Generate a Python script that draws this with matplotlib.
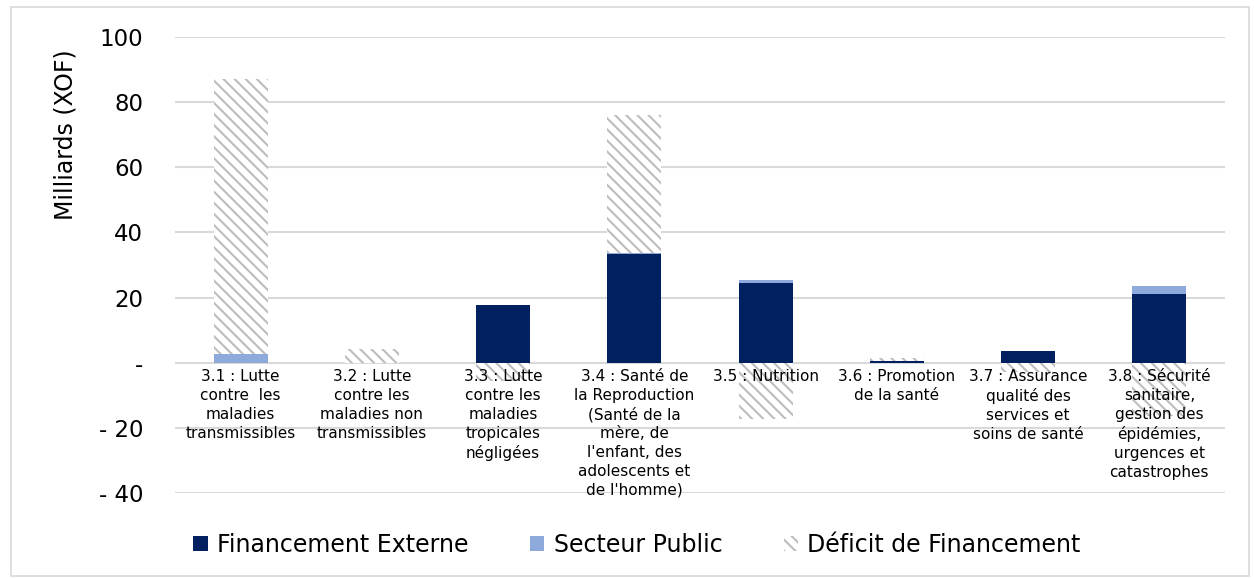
import numpy as np
import matplotlib
matplotlib.use("Agg")
import matplotlib.pyplot as plt
from matplotlib.patches import Rectangle, Patch

categories = [
    "3.1 : Lutte\ncontre  les\nmaladies\ntransmissibles",
    "3.2 : Lutte\ncontre les\nmaladies non\ntransmissibles",
    "3.3 : Lutte\ncontre les\nmaladies\ntropicales\nnégligées",
    "3.4 : Santé de\nla Reproduction\n(Santé de la\nmère, de\nl'enfant, des\nadolescents et\nde l'homme)",
    "3.5 : Nutrition",
    "3.6 : Promotion\nde la santé",
    "3.7 : Assurance\nqualité des\nservices et\nsoins de santé",
    "3.8 : Sécurité\nsanitaire,\ngestion des\népidémies,\nurgences et\ncatastrophes",
]
financement_externe = [0.0, 0.0, 17.8, 33.4, 24.6, 0.5, 3.6, 21.2]
secteur_public = [2.8, 0.0, 0.0, 0.4, 0.9, 0.1, 0.0, 2.4]
deficit = [84.3, 4.3, -5.5, 42.3, -17.2, 0.9, -3.0, -16.5]

yticks = [100, 80, 60, 40, 20, 0, -20, -40]
yticklabels = ["100", "80", "60", "40", "20", "-", "- 20", "- 40"]

navy = "#002060"
light_blue = "#8EA9DB"
hatch_col = "#bdbdbd"
plt.rcParams["hatch.linewidth"] = 1.5

fig = plt.figure(figsize=(12.54, 5.78), dpi=100)
ax = fig.add_axes([175 / 1254, 1 - 493 / 578, 1050 / 1254, 456 / 578])

x = np.arange(len(categories))
fe = np.array(financement_externe)
sp = np.array(secteur_public)
df = np.array(deficit)
w = 0.41

ax.bar(x, fe, w, color=navy, linewidth=0)
ax.bar(x, sp, w, bottom=fe, color=light_blue, linewidth=0)
# les déficits négatifs partent de zéro (empilement Excel)
df_bottom = np.where(df >= 0, fe + sp, 0)
ax.bar(x, df, w, bottom=df_bottom, facecolor="white", edgecolor=hatch_col,
       hatch="\\\\\\", linewidth=0)

for i, lab in enumerate(categories):
    ax.text(i, -2.0, lab, ha="center", va="top", fontsize=11,
            linespacing=1.32, zorder=5, color="#000000")

ax.set_xlim(-0.5, len(categories) - 0.5)
ax.set_ylim(-40, 100)
ax.set_yticks(yticks)
ax.set_yticklabels(yticklabels, fontsize=16.5)
ax.set_xticks([])
ax.tick_params(axis="y", length=0, pad=23)
ax.grid(axis="y", color="#d9d9d9", linewidth=1.5)
ax.set_axisbelow(True)
for s in ax.spines.values():
    s.set_visible(False)

fig.text(65 / 1254, 1 - 135 / 578, "Milliards (XOF)", rotation=90,
         ha="center", va="center", fontsize=17)

handles = [
    Patch(facecolor=navy, edgecolor="none"),
    Patch(facecolor=light_blue, edgecolor="none"),
    Patch(facecolor="white", edgecolor=hatch_col, hatch="\\\\\\", linewidth=0),
]
labels = ["Financement Externe", "Secteur Public", "Déficit de Financement"]
fig.legend(handles, labels, loc="center", bbox_to_anchor=(0.508, 1 - 545 / 578),
           ncol=3, frameon=False, fontsize=17, handlelength=0.6,
           handleheight=0.6, handletextpad=0.4, columnspacing=2.6)

fig.patches.append(Rectangle((11 / 1254, 2 / 578), 1238 / 1254, 569 / 578,
                             transform=fig.transFigure, fill=False,
                             edgecolor="#d9d9d9", linewidth=1.2))

fig.savefig("out.png", dpi=100)
